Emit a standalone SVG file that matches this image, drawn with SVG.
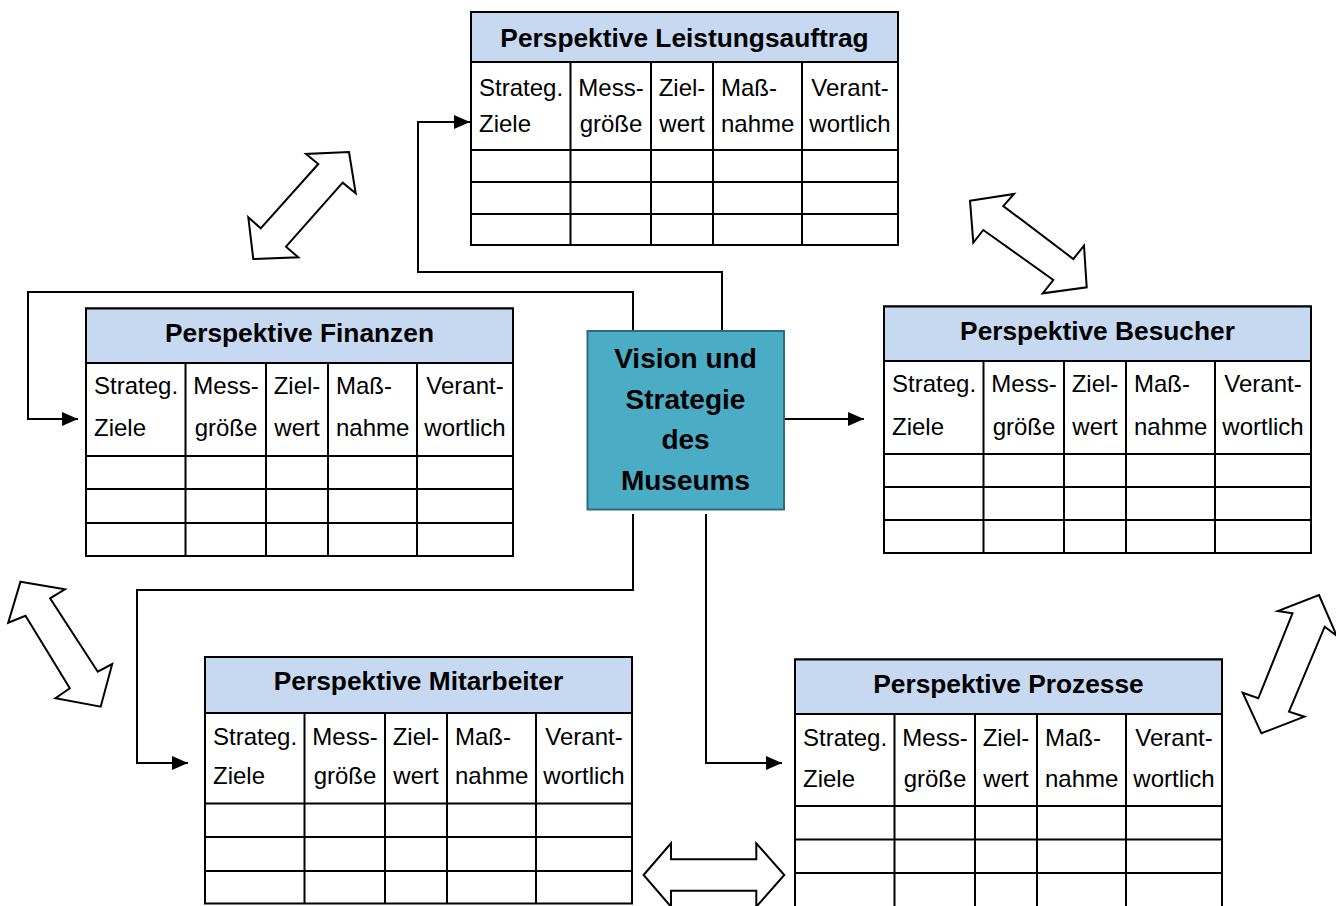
<svg xmlns="http://www.w3.org/2000/svg" width="1336" height="906" viewBox="0 0 1336 906">
<style>
.hdr{fill:#C6D9F1;stroke:#000;stroke-width:2}
.body{fill:#fff;stroke:#000;stroke-width:2}
.ln{stroke:#000;stroke-width:2;fill:none}
.ttl{font-family:"Liberation Sans",Arial,sans-serif;font-weight:bold;font-size:26.3px;text-anchor:middle;fill:#000}
.tx{font-family:"Liberation Sans",Arial,sans-serif;font-size:24px;fill:#000}
.mid{text-anchor:middle}
.conn{stroke:#000;stroke-width:2;fill:none}
.blk{fill:#fff;stroke:#000;stroke-width:2;stroke-linejoin:miter}
.ctr{fill:#4BACC6;stroke:#2F6B7C;stroke-width:2}
.ctxt{font-family:"Liberation Sans",Arial,sans-serif;font-weight:bold;font-size:28px;text-anchor:middle;fill:#000}
</style>
<defs>
<marker id="ah" markerUnits="userSpaceOnUse" markerWidth="16" markerHeight="14" refX="16" refY="7" orient="auto">
<path d="M0,0 L16,7 L0,14 z" fill="#000"/>
</marker>
</defs>

<g id="connectors">
<path class="conn" d="M722,331 V272 H418 V122 H470" marker-end="url(#ah)"/>
<path class="conn" d="M633,331 V292 H28 V419 H78" marker-end="url(#ah)"/>
<path class="conn" d="M785,419 H864" marker-end="url(#ah)"/>
<path class="conn" d="M633,514 V590 H137 V763 H188" marker-end="url(#ah)"/>
<path class="conn" d="M706,514 V763 H782" marker-end="url(#ah)"/>
<polygon class="blk" points="349,152 355.7,193.3 342.7,182.7 286,246.7 298.3,257.3 253.3,259 248.3,217.3 260.7,228.3 318.3,164 306,154"/>
<polygon class="blk" points="970,200.7 1014,194 1003.3,206 1073.3,259 1084,245.7 1086.7,287.3 1042.7,293.3 1053.3,280 983.3,230 973.3,242.7"/>
<polygon class="blk" points="20.5,581.7 64.9,589.3 50.1,598.3 97.8,671.7 112.2,664 100.7,706.7 55.5,698.3 69.8,688.3 25.5,615.7 8.2,622.7"/>
<polygon class="blk" points="1319,595 1336.6,635.6 1324.7,626.7 1289,711.7 1304.4,716.7 1261.4,733.3 1242.7,692.7 1258.3,698.3 1292.5,613.3 1277.8,611"/>
<polygon class="blk" points="643.6,875 671,843.3 671,859.2 756.3,859.2 756.3,843.3 784.3,875 756.3,906.7 756.3,890.8 671,890.8 671,906.7"/>
</g>

<g id="vision">
<rect class="ctr" x="587.5" y="331" width="196.5" height="178.5"/>
<text class="ctxt" x="685.5" y="368">Vision und</text>
<text class="ctxt" x="685.5" y="408.5">Strategie</text>
<text class="ctxt" x="685.5" y="448.5">des</text>
<text class="ctxt" x="685.5" y="490">Museums</text>
</g>

<g id="leistungsauftrag">
<rect class="body" x="471" y="12" width="427" height="233"/>
<rect class="hdr" x="471" y="12" width="427" height="50"/>
<path class="ln" d="M471,150 H898 M471,182 H898 M471,214 H898 M570.5,62 V245 M651,62 V245 M713,62 V245 M802,62 V245"/>
<text class="ttl" x="684.5" y="46.5">Perspektive Leistungsauftrag</text>
<text class="tx" x="479" y="96">Strateg.</text><text class="tx" x="479" y="132">Ziele</text>
<text class="tx mid" x="611" y="96">Mess-</text><text class="tx mid" x="611" y="132">größe</text>
<text class="tx mid" x="682" y="96">Ziel-</text><text class="tx mid" x="682" y="132">wert</text>
<text class="tx" x="721" y="96">Maß-</text><text class="tx" x="721" y="132">nahme</text>
<text class="tx mid" x="850" y="96">Verant-</text><text class="tx mid" x="850" y="132">wortlich</text>
</g>

<g id="finanzen">
<rect class="body" x="86" y="308.5" width="427" height="247.5"/>
<rect class="hdr" x="86" y="308.5" width="427" height="54.5"/>
<path class="ln" d="M86,456 H513 M86,489 H513 M86,523 H513 M185.5,363 V556 M266,363 V556 M328,363 V556 M417,363 V556"/>
<text class="ttl" x="299.5" y="342">Perspektive Finanzen</text>
<text class="tx" x="94" y="394">Strateg.</text><text class="tx" x="94" y="436">Ziele</text>
<text class="tx mid" x="226" y="394">Mess-</text><text class="tx mid" x="226" y="436">größe</text>
<text class="tx mid" x="297" y="394">Ziel-</text><text class="tx mid" x="297" y="436">wert</text>
<text class="tx" x="336" y="394">Maß-</text><text class="tx" x="336" y="436">nahme</text>
<text class="tx mid" x="465" y="394">Verant-</text><text class="tx mid" x="465" y="436">wortlich</text>
</g>

<g id="besucher">
<rect class="body" x="884" y="306.5" width="427" height="246.5"/>
<rect class="hdr" x="884" y="306.5" width="427" height="54.5"/>
<path class="ln" d="M884,454 H1311 M884,487 H1311 M884,520 H1311 M983.5,361 V553 M1064,361 V553 M1126,361 V553 M1215,361 V553"/>
<text class="ttl" x="1097.5" y="340">Perspektive Besucher</text>
<text class="tx" x="892" y="392">Strateg.</text><text class="tx" x="892" y="435">Ziele</text>
<text class="tx mid" x="1024" y="392">Mess-</text><text class="tx mid" x="1024" y="435">größe</text>
<text class="tx mid" x="1095" y="392">Ziel-</text><text class="tx mid" x="1095" y="435">wert</text>
<text class="tx" x="1134" y="392">Maß-</text><text class="tx" x="1134" y="435">nahme</text>
<text class="tx mid" x="1263" y="392">Verant-</text><text class="tx mid" x="1263" y="435">wortlich</text>
</g>

<g id="mitarbeiter">
<rect class="body" x="205" y="657" width="427" height="246.5"/>
<rect class="hdr" x="205" y="657" width="427" height="56"/>
<path class="ln" d="M205,803.5 H632 M205,837 H632 M205,871 H632 M304.5,713 V903.5 M385,713 V903.5 M447,713 V903.5 M536,713 V903.5"/>
<text class="ttl" x="418.5" y="690">Perspektive Mitarbeiter</text>
<text class="tx" x="213" y="745">Strateg.</text><text class="tx" x="213" y="784">Ziele</text>
<text class="tx mid" x="345" y="745">Mess-</text><text class="tx mid" x="345" y="784">größe</text>
<text class="tx mid" x="416" y="745">Ziel-</text><text class="tx mid" x="416" y="784">wert</text>
<text class="tx" x="455" y="745">Maß-</text><text class="tx" x="455" y="784">nahme</text>
<text class="tx mid" x="584" y="745">Verant-</text><text class="tx mid" x="584" y="784">wortlich</text>
</g>

<g id="prozesse">
<rect class="body" x="795" y="659.5" width="427" height="250"/>
<rect class="hdr" x="795" y="659.5" width="427" height="54.5"/>
<path class="ln" d="M795,806 H1222 M795,839.5 H1222 M795,873 H1222 M894.5,714 V909 M975,714 V909 M1037,714 V909 M1126,714 V909"/>
<text class="ttl" x="1008.5" y="693">Perspektive Prozesse</text>
<text class="tx" x="803" y="746">Strateg.</text><text class="tx" x="803" y="787">Ziele</text>
<text class="tx mid" x="935" y="746">Mess-</text><text class="tx mid" x="935" y="787">größe</text>
<text class="tx mid" x="1006" y="746">Ziel-</text><text class="tx mid" x="1006" y="787">wert</text>
<text class="tx" x="1045" y="746">Maß-</text><text class="tx" x="1045" y="787">nahme</text>
<text class="tx mid" x="1174" y="746">Verant-</text><text class="tx mid" x="1174" y="787">wortlich</text>
</g>
</svg>
